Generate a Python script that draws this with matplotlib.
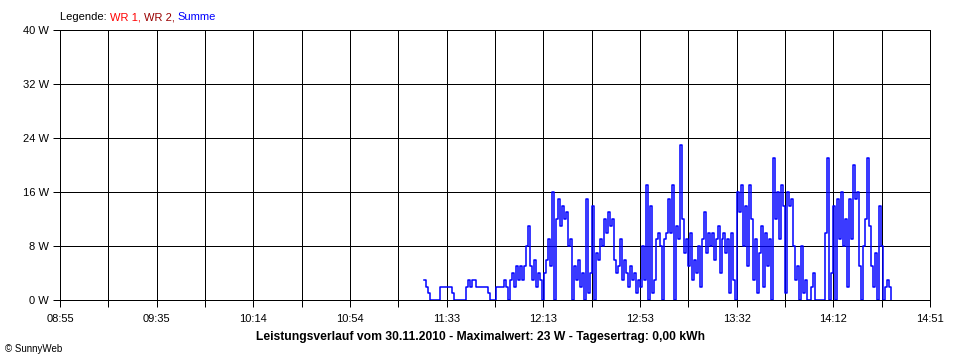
import numpy as np
import matplotlib
matplotlib.use("Agg")
import matplotlib.pyplot as plt

plt.rcParams["font.family"] = ["Liberation Sans", "DejaVu Sans"]

# axis range in minutes after 08:55
x_start = "08:55"
x_span_min = 356
tick_labels = ["08:55", "09:35", "10:14", "10:54", "11:33",
               "12:13", "12:53", "13:32", "14:12", "14:51"]
y_ticks = [0, 8, 16, 24, 32, 40]

# measured power (W), one sample every 49 s starting at 11:24
sample_start_min = 149.0
sample_step_min = 49 / 60
summe = [
    3, 2, 1, 0, 0, 0, 0, 0, 2, 2, 2, 2, 2, 2, 1, 0, 0, 0, 0, 0, 0,
    2, 3, 2, 3, 3, 2, 2, 2, 2, 2, 2, 1, 0, 0, 0, 2, 2, 2, 2, 3, 2, 0,
    3, 4, 2, 5, 3, 5, 3, 5, 8, 11, 5, 3, 6, 2, 4, 3, 0, 4, 6, 9, 5, 16,
    0, 12, 15, 11, 14, 12, 13, 8, 9, 0, 5, 3, 6, 2, 4, 0, 15, 1, 4, 14,
    0, 7, 6, 9, 8, 12, 10, 13, 11, 12, 6, 4, 5, 9, 3, 6, 4, 2, 5, 3, 4,
    1, 3, 2, 8, 3, 17, 0, 14, 1, 3, 9, 10, 8, 0, 9, 10, 15, 10, 17, 0,
    11, 9, 23, 12, 7, 9, 5, 10, 3, 6, 4, 8, 2, 9, 13, 7, 10, 8, 10, 6,
    9, 11, 4, 9, 10, 7, 9, 1, 10, 3, 0, 16, 13, 17, 8, 14, 5, 17, 12, 3,
    9, 1, 7, 11, 2, 10, 5, 9, 0, 21, 12, 16, 9, 17, 14, 1, 16, 14, 15, 8,
    3, 5, 0, 8, 1, 3, 0, 0, 2, 4, 0, 0, 0, 0, 0, 10, 21, 0, 4, 14, 0, 15,
    9, 16, 8, 12, 2, 15, 9, 20, 15, 16, 5, 0, 8, 12, 21, 11, 5, 2, 7, 0,
    14, 8, 0, 2, 3, 2, 0,
]

legend_parts = [("Legende: ", "black"), ("WR 1, ", "#ff0000"),
                ("WR 2, ", "#990000"), ("Summe", "#0000ff")]
title = "Leistungsverlauf vom 30.11.2010 - Maximalwert: 23 W - Tagesertrag: 0,00 kWh"

t = sample_start_min + sample_step_min * np.arange(len(summe))

px = 0.72  # one pixel at 100 dpi, in points

fig = plt.figure(figsize=(9.6, 3.6), dpi=100)
ax = fig.add_axes([60 / 960, 60 / 360, 870 / 960, 270 / 360])

ax.plot(t, summe, color="#0000ff", lw=1.1, drawstyle="steps-post", zorder=3)

ax.set_xlim(0, x_span_min)
ax.set_ylim(0, 40)
grid_x = np.linspace(0, x_span_min, 19)
ax.set_xticks(grid_x)
ax.set_xticklabels([tick_labels[i // 2] if i % 2 == 0 else "" for i in range(19)])
ax.set_yticks(y_ticks)
ax.set_yticklabels([f"{v} W" for v in y_ticks])
ax.grid(True, color="black", lw=px, antialiased=False)
ax.set_axisbelow(True)
for s in ax.spines.values():
    s.set_color("black")
    s.set_linewidth(px)
    s.set_antialiased(False)
ax.tick_params(direction="out", length=5, width=px, labelsize=8, pad=3)
ax.tick_params(axis="x", pad=5)

# legend line at top left
prev = fig.text(60 / 960, 1 - 17 / 360, legend_parts[0][0],
                color=legend_parts[0][1], fontsize=8, va="center", ha="left")
for txt, col in legend_parts[1:]:
    prev = ax.annotate(txt, xy=(1, 0.5), xycoords=prev, color=col,
                       fontsize=8, va="center", ha="left")

fig.text(480 / 960, 1 - 337 / 360, title, fontsize=8.7, fontweight="bold",
         ha="center", va="center")
fig.text(5 / 960, 1 - 349 / 360, "\u00a9 SunnyWeb", fontsize=7,
         ha="left", va="center")

fig.savefig("out.png", dpi=100)
